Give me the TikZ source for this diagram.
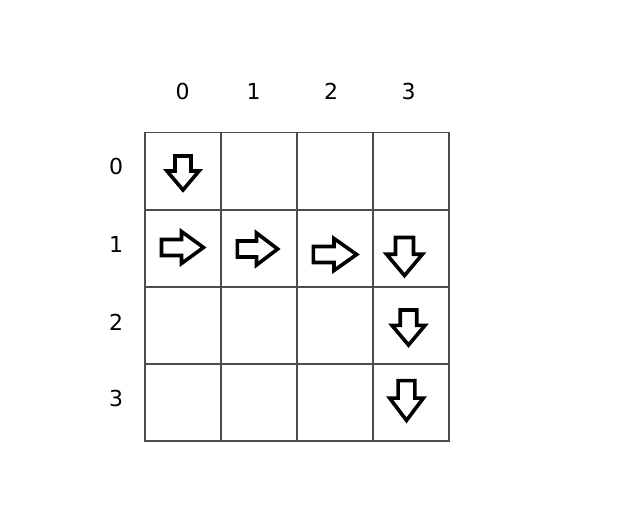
\documentclass[tikz,border=0pt]{standalone}
\usepackage{fontspec}
\setmainfont{DejaVu Sans}
\begin{document}
\begin{tikzpicture}[x=1pt,y=-1pt,
  cell/.style={draw=black!70,line width=1.4pt,minimum width=76pt,minimum height=77pt,inner sep=0pt,outer sep=0pt},
  lbl/.style={font=\fontsize{22}{26}\selectfont,inner sep=0pt},
  arr/.style={draw=black,line width=3.6pt,line join=miter,fill=white},
  rightarrow/.pic={\path[arr] (-21,-8) -- (-1,-8) -- (-1,-16) -- (21,0) -- (-1,16) -- (-1,8) -- (-21,8) -- cycle;},
  downarrow/.pic={\path[arr] (-8,-17) -- (8,-17) -- (8,-2) -- (16,-2) -- (0,17) -- (-16,-2) -- (-8,-2) -- (-8,-17) -- cycle;}
]
\useasboundingbox (0,0) rectangle (619,532);
\foreach \r/\y in {0/171,1/248.5,2/325.5,3/402.5}{
  \foreach \c/\x in {0/183,1/259,2/335,3/411}{
    \node[cell] (c-\r-\c) at (\x,\y) {};
  }
}
\foreach \c/\x in {0/182.5,1/253.5,2/331,3/408.5}{
  \node[lbl] (col-\c) at (\x,91) {\c};
}
\foreach \r/\y in {0/166,1/244,2/322,3/398}{
  \node[lbl] (row-\r) at (116,\y) {\r};
}
\pic at (183,173) {downarrow};
\pic at (182.5,247.5) {rightarrow};
\pic[xscale=0.96] at (257.5,249) {rightarrow};
\pic[xscale=1.03] at (335,254.5) {rightarrow};
\pic[xscale=1.12,yscale=1.12] at (404.5,256.5) {downarrow};
\pic[xscale=1.03,yscale=1.03] at (408.5,327.5) {downarrow};
\pic[xscale=1.05,yscale=1.17] at (406.5,400.5) {downarrow};
\end{tikzpicture}
\end{document}
